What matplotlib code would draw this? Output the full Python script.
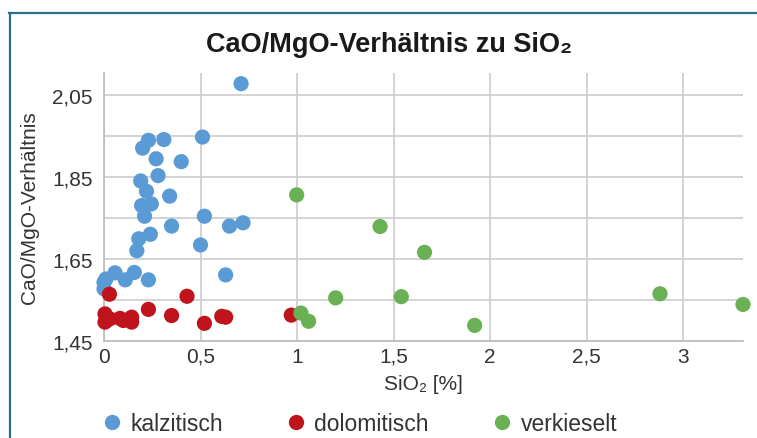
import matplotlib
matplotlib.use("Agg")
import matplotlib.pyplot as plt
from matplotlib.ticker import FuncFormatter, FixedLocator, MultipleLocator
from matplotlib.lines import Line2D

plt.rcParams["font.family"] = ["Liberation Sans", "DejaVu Sans"]

# SiO2 [%] und CaO/MgO-Verhältnis je Probengruppe
kalz_x = [0.71, 0.51, 0.31, 0.23, 0.20, 0.27, 0.40, 0.28, 0.19, 0.22, 0.34, 0.195, 0.245,
          0.21, 0.52, 0.35, 0.65, 0.72, 0.24, 0.18, 0.50, 0.17, 0.057, 0.157, 0.11, 0.23,
          0.63, 0.0, 0.01, 0.0]
kalz_y = [2.077, 1.947, 1.941, 1.939, 1.920, 1.894, 1.887, 1.853, 1.840, 1.815, 1.803, 1.780,
          1.784, 1.754, 1.754, 1.730, 1.730, 1.738, 1.710, 1.699, 1.684, 1.670, 1.616, 1.617,
          1.599, 1.599, 1.611, 1.593, 1.601, 1.577]

dolo_x = [0.028, 0.43, 0.23, 0.35, 0.52, 0.61, 0.63, 0.97, 0.005, 0.005, 0.03, 0.083, 0.10,
          0.143, 0.143]
dolo_y = [1.564, 1.559, 1.527, 1.512, 1.493, 1.510, 1.508, 1.513, 1.516, 1.496, 1.504, 1.505,
          1.500, 1.508, 1.496]

verk_x = [0.998, 1.43, 1.66, 1.20, 1.54, 1.02, 1.06, 1.92, 2.88, 3.31]
verk_y = [1.806, 1.729, 1.666, 1.555, 1.558, 1.518, 1.498, 1.488, 1.565, 1.539]

gruppen = ["kalzitisch", "dolomitisch", "verkieselt"]
farben = ["#5B9BD5", "#C0141C", "#6AB155"]

y_ticks = [1.45, 1.65, 1.85, 2.05]
y_grid = [1.45, 1.55, 1.65, 1.75, 1.85, 1.95, 2.05]

fig = plt.figure(figsize=(7.57, 4.39), dpi=100)
ax = fig.add_axes([0.1374, 0.221, 0.8441, 0.6104])

for xs, ys, c in zip([kalz_x, dolo_x, verk_x], [kalz_y, dolo_y, verk_y], farben):
    ax.scatter(xs, ys, s=120, color=c, edgecolors="none", zorder=3, clip_on=False)

ax.set_xlim(0, 3.31)
ax.set_ylim(1.45, 2.103)
ax.xaxis.set_major_locator(MultipleLocator(0.5))
ax.yaxis.set_major_locator(FixedLocator(y_ticks))
ax.yaxis.set_minor_locator(FixedLocator(y_grid))

ax.xaxis.set_major_formatter(FuncFormatter(lambda v, p: ("%g" % round(v, 2)).replace(".", ",")))
ax.yaxis.set_major_formatter(FuncFormatter(lambda v, p: ("%.2f" % v).replace(".", ",")))

ax.grid(True, which="both", color="#CCCCCC", linewidth=1.2)
ax.set_axisbelow(True)
for s in ["top", "right"]:
    ax.spines[s].set_visible(False)
for s in ["left", "bottom"]:
    ax.spines[s].set_color("#BBBBBB")
    ax.spines[s].set_linewidth(1.2)
ax.tick_params(which="both", length=0, labelsize=15, labelcolor="#333333", pad=4)
ax.tick_params(axis="y", pad=8)

ax.set_xlabel("SiO₂ [%]", fontsize=15, color="#333333", labelpad=6)
ax.set_ylabel("CaO/MgO-Verhältnis", fontsize=15, color="#333333", labelpad=10)

fig.text(0.514, 0.897, "CaO/MgO-Verhältnis zu SiO₂", ha="center", va="center",
         fontsize=19.5, fontweight="bold", color="#1A1A1A")

handles = [Line2D([], [], marker="o", linestyle="none", markersize=11, color=c,
                  markeredgewidth=0) for c in farben]
fig.legend(handles, gruppen, loc="center", bbox_to_anchor=(0.474, 0.033), ncol=3,
           frameon=False, fontsize=16.5, handlelength=1.0, handletextpad=0.3,
           columnspacing=2.7, labelcolor="#333333")

# Rahmen oben und links
fig.add_artist(Line2D([0.012, 1.0], [0.968, 0.968], color="#2B6F8F", linewidth=1.6,
                      transform=fig.transFigure))
fig.add_artist(Line2D([0.0135, 0.0135], [0.968, 0.0], color="#2B6F8F", linewidth=1.6,
                      transform=fig.transFigure))

fig.savefig("out.png", dpi=100)
